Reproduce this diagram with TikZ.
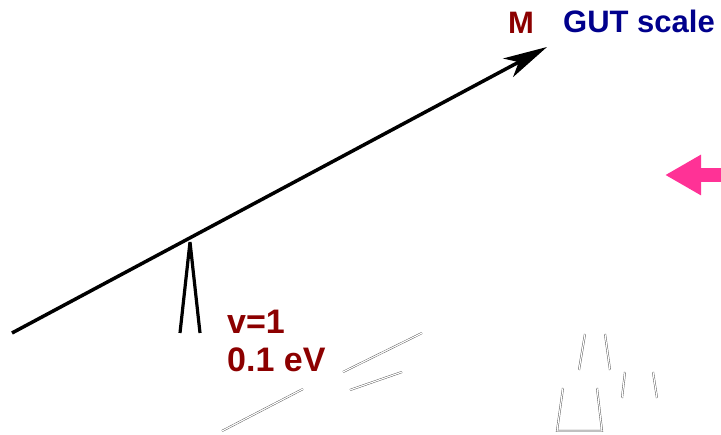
\documentclass[tikz,border=0pt]{standalone}
\usepackage{fontspec}
\setmainfont{Liberation Sans}
\usetikzlibrary{arrows.meta,positioning}
\definecolor{darkred}{RGB}{140,0,0}
\definecolor{darkblue}{RGB}{0,0,140}
\definecolor{hotpink}{RGB}{255,50,150}
\begin{document}
\begin{tikzpicture}[
x=1pt, y=-1pt,
lbl/.style={font=\bfseries\fontsize{31}{33}\selectfont, inner sep=0pt, anchor=base west},
biglbl/.style={lbl, font=\bfseries\fontsize{34}{36}\selectfont},
lever/.style={-{Stealth[length=44pt, width=21pt, inset=12pt]}, line width=3.5pt},
post/.style={line width=3.2pt, miter limit=4},
pinkarrow/.style={-{Triangle[length=36pt, width=38pt]}, line width=14pt, draw=hotpink},
ghost/.style={draw=black!70, double=white, double distance=1.2pt, line width=0.4pt}
]
\useasboundingbox (0,0) rectangle (721,435);
% seesaw
\coordinate (low) at (12,333);
\coordinate (high) at (547,47);
\coordinate (apex) at (190,242);
\coordinate (footl) at (180,333);
\coordinate (footr) at (200,333);
\draw[post] (footl)--(apex)--(footr);
\draw[lever] (low)--(high);
% labels
\node[lbl, text=darkred] (m) at (508,34) {M};
\node[lbl, text=darkblue] (gut) at (563,33) {GUT scale};
\node[biglbl, text=darkred] (nu) at (227,334) {v=1};
\node[biglbl, text=darkred] (ev) at (227,372) {0.1 eV};
% pink arrow
\coordinate (pinkstart) at (722,175);
\coordinate (pinktip) at (665,175);
\draw[pinkarrow] (pinkstart)--(pinktip);
% faint strokes
\draw[ghost] (222,431)--(303,389);
\draw[ghost] (343,372)--(422,333);
\draw[ghost] (350,390)--(402,372);
\draw[ghost] (585,334)--(579,370);
\draw[ghost] (605,334)--(610,370);
\draw[ghost] (563,388)--(557,431)--(602,431)--(597,388);
\draw[ghost] (625,372)--(622,398);
\draw[ghost] (653,372)--(657,398);
\end{tikzpicture}
\end{document}
